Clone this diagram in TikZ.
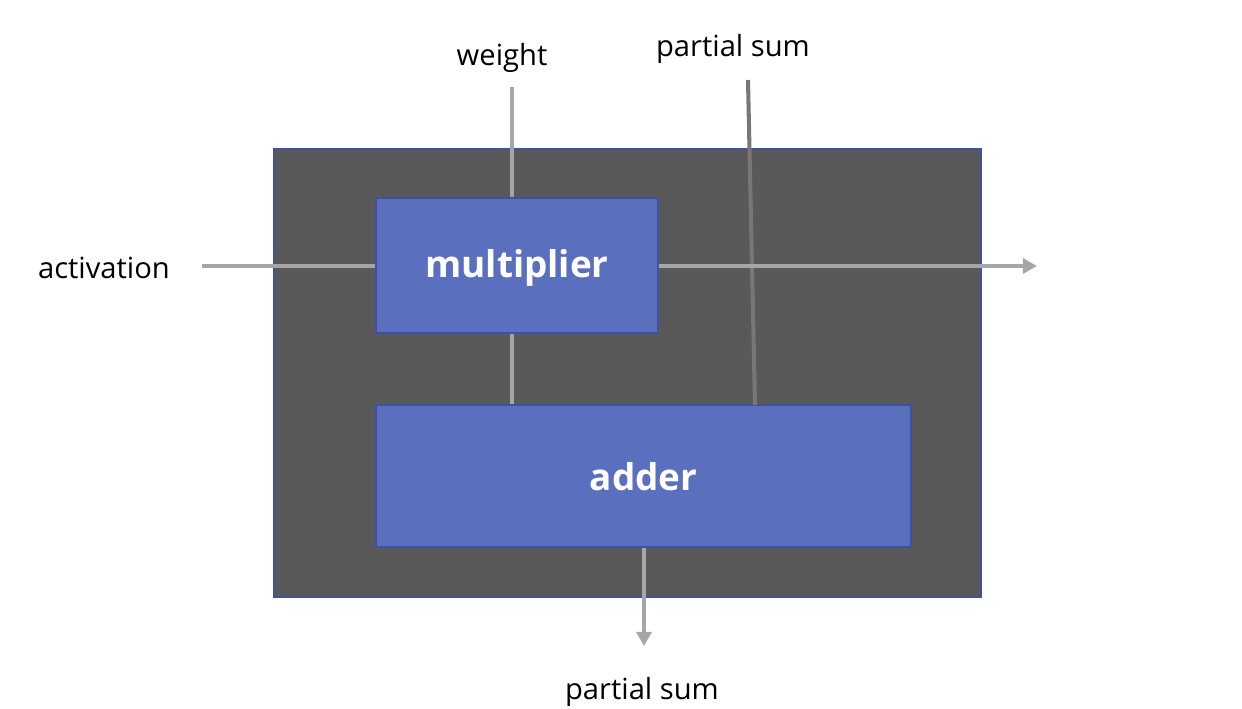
\documentclass[tikz,border=0pt]{standalone}
\usepackage{fontspec}
\setmainfont{Open Sans}
\usetikzlibrary{arrows.meta}
\definecolor{darkbox}{HTML}{595959}
\definecolor{boxblue}{HTML}{5A70BE}
\definecolor{edgeblue}{HTML}{3F51A0}
\definecolor{lightwire}{HTML}{A6A6A6}
\definecolor{darkwire}{HTML}{7A7676}
\tikzset{
  unitbox/.style={draw=edgeblue, line width=0.6pt, fill=boxblue, inner sep=0pt, text=white, font=\fontsize{21}{24}\selectfont\bfseries, text depth=0pt},
  wire/.style={draw=lightwire, line width=2.3pt},
  arrowwire/.style={wire, -{Triangle[length=8pt,width=8.5pt]}},
  lbl/.style={font=\fontsize{16.6}{19}\selectfont, text=black, inner sep=0pt}
}
\begin{document}
\begin{tikzpicture}[x=0.02cm,y=-0.02cm]
\useasboundingbox (0,0) rectangle (1242,709);
% outer box
\node[draw=edgeblue, line width=0.6pt, fill=darkbox, minimum width=707*0.02cm, minimum height=448*0.02cm, inner sep=0pt] (pe) at (627.5,373) {};
% units
\node[unitbox, text height=14pt, minimum width=282*0.02cm, minimum height=135*0.02cm] (mul) at (517,265.5) {multiplier};
\node[unitbox, text height=17pt, minimum width=535*0.02cm, minimum height=142*0.02cm] (add) at (643.5,476) {adder};
% labels
\node[lbl] (w) at (502,58) {weight};
\node[lbl] (ps1) at (733,48.5) {partial sum};
\node[lbl] (act) at (104,268) {activation};
\node[lbl] (ps2) at (642,692) {partial sum};
% coordinates
\coordinate (wtop) at (512,87);
\coordinate (atl) at (202,266);
\coordinate (aout) at (1037,266);
\coordinate (pstop) at (748,80);
\coordinate (psbot) at (755,405);
\coordinate (bout) at (644,646);
% wires
\draw[draw=darkwire, line width=2.3pt] (pstop) -- (psbot);
\draw[wire] (wtop) -- (wtop |- mul.north);
\draw[wire] (mul.south -| wtop) -- (add.north -| wtop);
\draw[wire] (atl) -- (mul.west |- atl);
\draw[arrowwire] (mul.east |- aout) -- (aout);
\draw[arrowwire] (add.south -| bout) -- (bout);
\end{tikzpicture}
\end{document}
